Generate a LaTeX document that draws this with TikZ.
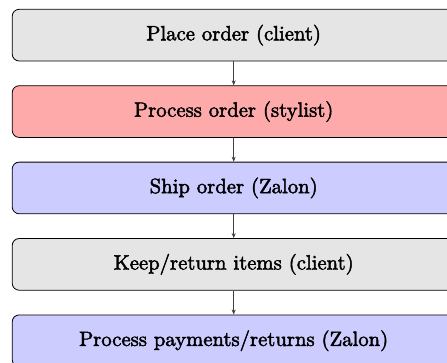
\documentclass[tikz,border=0pt]{standalone}
\usetikzlibrary{arrows.meta}
\definecolor{boxgray}{RGB}{229,229,229}
\definecolor{boxred}{RGB}{255,170,170}
\definecolor{boxblue}{RGB}{204,204,255}
\newcommand{\bigtxt}[1]{\scalebox{2.07}{\special{pdf:literal direct 2 Tr 0.22 w}#1\special{pdf:literal direct 0 Tr}}}
\begin{document}
\begin{tikzpicture}[x=1pt,y=1pt,
  stepbox/.style={draw=black, line width=0.8pt, rounded corners=7pt,
    minimum width=443pt, minimum height=51.7pt, inner sep=0pt},
  flow/.style={draw=black!75, line width=0.6pt, -{Stealth[length=5pt,width=4pt]}}]
\useasboundingbox (0,0) rectangle (447,-362);
\clip (0,0) rectangle (447,-362);
\node[stepbox, fill=boxgray] (a) at (233.7,-35.15) {\bigtxt{Place order (client)}};
\node[stepbox, fill=boxred] (b) at (233.7,-111.55) {\bigtxt{Process order (stylist)}};
\node[stepbox, fill=boxblue] (c) at (233.7,-187.95) {\bigtxt{Ship order (Zalon)}};
\node[stepbox, fill=boxgray] (d) at (233.7,-264.35) {\bigtxt{Keep/return items (client)}};
\node[stepbox, fill=boxblue] (e) at (233.7,-340.75) {\bigtxt{Process payments/returns (Zalon)}};
\draw[flow] (a) -- (b);
\draw[flow] (b) -- (c);
\draw[flow] (c) -- (d);
\draw[flow] (d) -- (e);
\end{tikzpicture}
\end{document}
